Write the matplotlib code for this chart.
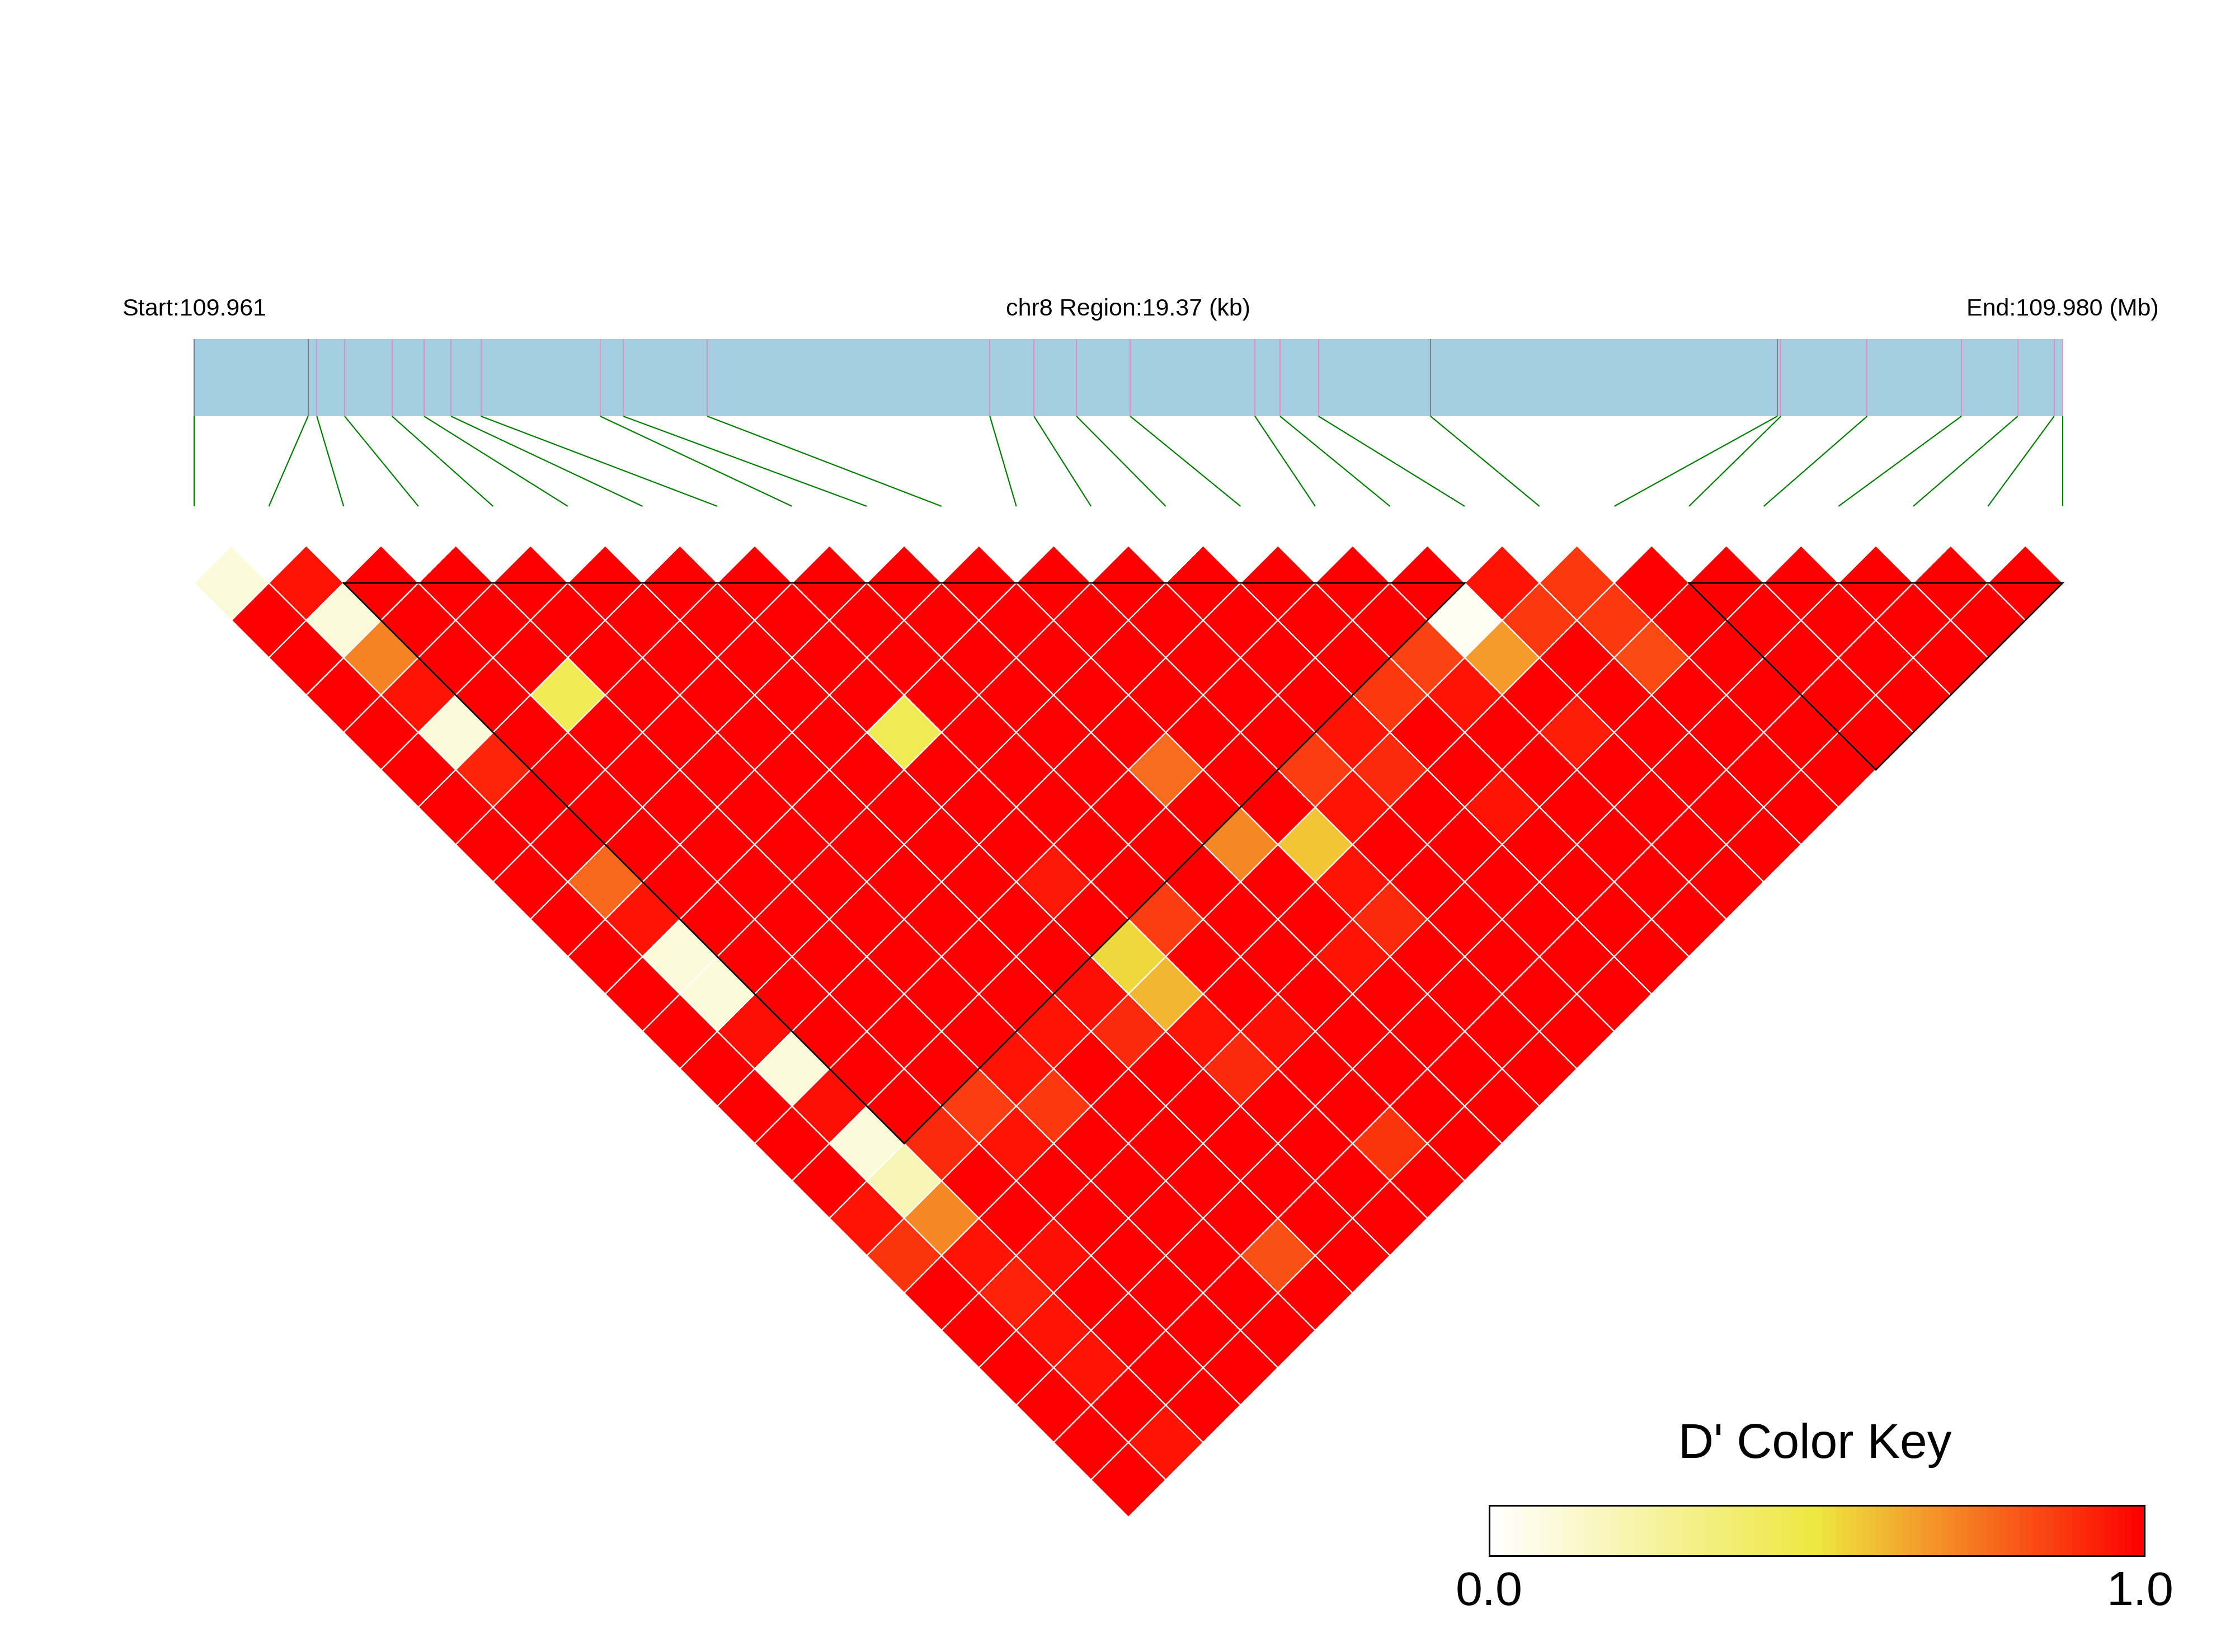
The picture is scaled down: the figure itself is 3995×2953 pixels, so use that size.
import numpy as np
import matplotlib
matplotlib.use("Agg")
import matplotlib.pyplot as plt
from matplotlib.patches import Rectangle
from matplotlib.collections import PolyCollection, LineCollection
from matplotlib.colors import LinearSegmentedColormap, Normalize

plt.rcParams['font.family'] = ['Liberation Sans', 'DejaVu Sans']

# ---- data -------------------------------------------------------------
chrom = 'chr8'
region_start = 109960950
region_end = 109980320

snp_pos = [109960950, 109962131, 109962222, 109962510, 109963002, 109963333,
           109963613, 109963923, 109965159, 109965398, 109966270, 109969199,
           109969656, 109970097, 109970654, 109971947, 109972207, 109972606,
           109973767, 109977362, 109977399, 109978293, 109979270, 109979854,
           109980231, 109980320]
# False = SNP drawn grey on the gene bar, True = drawn pink
snp_in_feature = [False, False, True, True, True, True, True, True, True,
                  True, True, True, True, True, True, True, True, True,
                  False, False, True, True, True, True, True, True]

# D' between SNP i and SNP j (j > i), one row per SNP i
dprime_rows = [
    [0.10, 1, 1, 1, 1, 1, 1, 1, 1, 1, 1, 1, 1, 1, 1, 1, 1, 0.95, 0.885, 1, 1, 1, 1, 1, 1],
    [0.95, 0.10, 0.71, 0.95, 0.10, 0.91, 1, 1, 0.77, 0.95, 0.10, 0.10, 0.96, 0.10,
     0.96, 0.10, 0.19, 0.70, 0.95, 0.92, 0.95, 0.95, 1, 0.95],
    [1, 1, 1, 1, 1, 1, 1, 1, 1, 1, 1, 1, 1, 1, 1, 0.90, 1, 1, 0.96, 1, 1, 1, 1],
    [1, 1, 1, 0.44, 1, 1, 1, 1, 1, 1, 1, 1, 1, 1, 0.86, 0.95, 1, 1, 1, 1, 1, 1],
    [1, 1, 1, 1, 1, 1, 1, 1, 1, 1, 1, 1, 1, 0.95, 0.875, 1, 1, 1, 1, 1, 1],
    [1, 1, 1, 1, 1, 1, 1, 1, 1, 1, 1, 1, 0.95, 1, 1, 1, 1, 1, 0.82, 1],
    [1, 1, 1, 1, 1, 1, 1, 1, 1, 1, 1, 0.96, 0.90, 1, 1, 1, 1, 1, 1],
    [1, 1, 1, 1, 0.44, 1, 1, 1, 0.94, 1, 0.53, 0.60, 0.95, 0.90, 1, 1, 1, 1],
    [1, 1, 1, 1, 1, 1, 1, 1, 1, 0.86, 1, 1, 0.96, 1, 1, 0.885, 1],
    [1, 1, 1, 1, 1, 1, 1, 1, 1, 1, 1, 1, 1, 1, 1, 1],
    [1, 1, 1, 1, 1, 0.76, 1, 0.70, 1, 1, 0.95, 1, 1, 1, 1],
    [1, 1, 1, 1, 1, 1, 1, 0.575, 0.95, 0.90, 1, 1, 1, 1],
    [1, 1, 1, 1, 1, 0.86, 0.95, 1, 1, 1, 1, 1, 1],
    [1, 1, 1, 1, 0.95, 0.90, 1, 1, 1, 1, 1, 1],
    [1, 1, 1, 0.875, 1, 1, 0.95, 1, 1, 1, 1],
    [1, 1, 0.85, 0.95, 1, 1, 1, 1, 1, 1],
    [1, 0.03, 0.66, 1, 0.93, 1, 1, 1, 1],
    [0.95, 0.875, 1, 1, 1, 1, 1, 1],
    [0.875, 0.875, 0.83, 1, 1, 1, 1],
    [1, 1, 1, 1, 1, 1],
    [1, 1, 1, 1, 1],
    [1, 1, 1, 1],
    [1, 1, 1],
    [1, 1],
    [1],
]

# haplotype blocks (first SNP, last SNP)
blocks = [(2, 17), (20, 25)]
key_title = "D' Color Key"
key_ticks = ['0.0', '1.0']

# ---- layout (pixels) ---------------------------------------------------
W, H = 3995, 2953
bar_l, bar_r, bar_t, bar_b = 347, 3687, 606, 744
link_y = 905
tri_y = 1042

cmap = LinearSegmentedColormap.from_list('ld', ['#FFFFFF', '#EEE840', '#FF0000'], N=100)
norm = Normalize(0, 1)

fig = plt.figure(figsize=(W / 100, H / 100), dpi=100)
ax = fig.add_axes([0, 0, 1, 1])
ax.set_xlim(0, W)
ax.set_ylim(H, 0)
ax.axis('off')

n = len(snp_pos)
step = (bar_r - bar_l) / (n - 1)
half = step / 2
snp_x = bar_l + step * np.arange(n)

# gene bar with SNP marks
ax.add_patch(Rectangle((bar_l, bar_t), bar_r - bar_l, bar_b - bar_t,
                       facecolor='#A6CEE3', edgecolor='none'))
pos = np.array(snp_pos, dtype=float)
mark_x = bar_l + (pos - region_start) / (region_end - region_start) * (bar_r - bar_l)
mark_col = ['#E48FC3' if f else '#808080' for f in snp_in_feature]
ax.vlines(mark_x, bar_t, bar_b, colors=mark_col, linewidth=1.5)

links = [[(mx, bar_b), (sx, link_y)] for mx, sx in zip(mark_x, snp_x)]
ax.add_collection(LineCollection(links, colors='#008000', linewidths=1.6))

# header text
ax.text(bar_l, 564, 'Start:%.3f' % (region_start / 1e6), ha='center',
        va='baseline', fontsize=31)
ax.text((bar_l + bar_r) / 2, 564,
        '%s Region:%.2f (kb)' % (chrom, (region_end - region_start) / 1000.0),
        ha='center', va='baseline', fontsize=31)
ax.text(bar_r, 564, 'End:%.3f (Mb)' % (region_end / 1e6), ha='center',
        va='baseline', fontsize=31)

# LD triangle
polys, vals = [], []
for i, row in enumerate(dprime_rows):
    for k, v in enumerate(row):
        j = i + 1 + k
        cx = (snp_x[i] + snp_x[j]) / 2
        cy = tri_y + (j - i - 1) * half
        polys.append([(cx - half, cy), (cx, cy - half), (cx + half, cy), (cx, cy + half)])
        vals.append(v)
pc = PolyCollection(polys, facecolors=cmap(norm(np.array(vals))),
                    edgecolors='white', linewidths=1.6)
ax.add_collection(pc)

for a, b in blocks:
    vx = (snp_x[a] + snp_x[b]) / 2
    vy = tri_y + (b - a) * half
    ax.plot([snp_x[a], snp_x[b], vx, snp_x[a]], [tri_y, tri_y, vy, tri_y],
            color='black', linewidth=2, solid_joinstyle='miter')

# colour key
ax.text(3244, 2606, key_title, ha='center', va='baseline', fontsize=63)
kx0, kx1, ky0, ky1 = 2662, 3833, 2691, 2781
cax = fig.add_axes([kx0 / W, 1 - ky1 / H, (kx1 - kx0) / W, (ky1 - ky0) / H])
cax.imshow(np.linspace(0, 1, 100)[None, :], aspect='auto', cmap=cmap, norm=norm)
cax.set_xticks([])
cax.set_yticks([])
for sp in cax.spines.values():
    sp.set_linewidth(2.2)
    sp.set_color('black')
ax.text(kx0, 2869, key_ticks[0], ha='center', va='baseline', fontsize=62)
ax.text(kx1 - 8, 2869, key_ticks[1], ha='center', va='baseline', fontsize=62)

fig.savefig('out.png', dpi=100, facecolor='white')
